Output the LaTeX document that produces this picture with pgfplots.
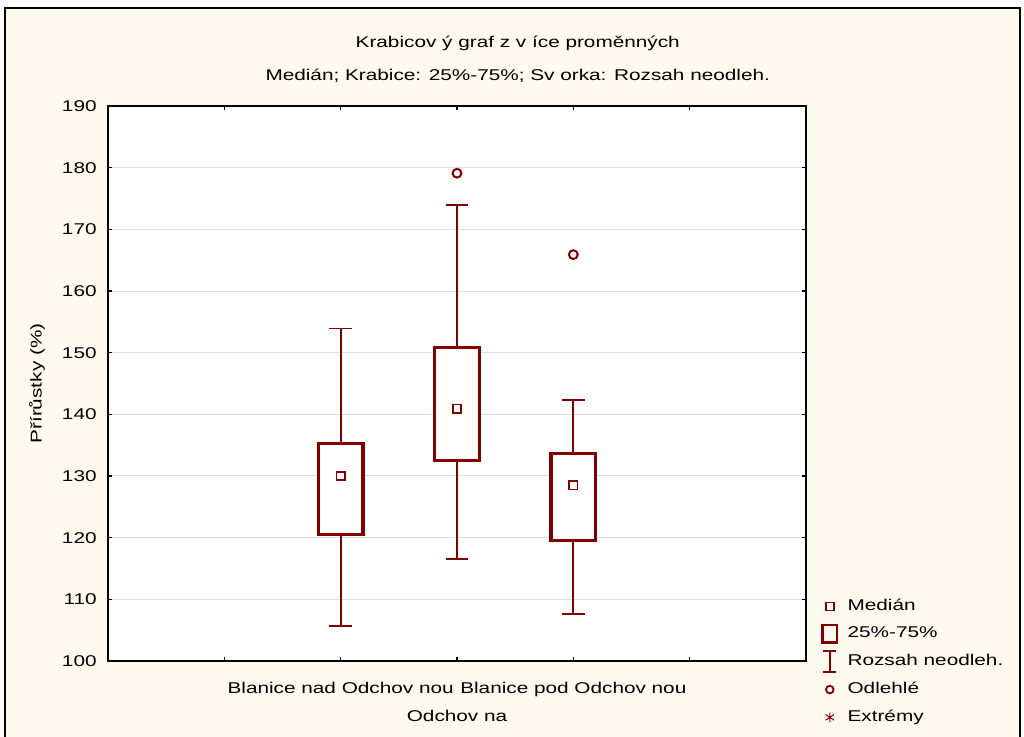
\documentclass[border=0pt]{standalone}
\usepackage{pgfplots}
\pgfplotsset{compat=1.18}
\usepgfplotslibrary{statistics}
\usepackage{fontspec}
\setmainfont{Liberation Sans}[FakeStretch=1.33]
\definecolor{mred}{RGB}{128,0,0}
\definecolor{cream}{RGB}{253,249,239}
\definecolor{gridgray}{RGB}{221,221,221}
\begin{document}
\begin{tikzpicture}
\path[use as bounding box] (-54pt,-38pt) rectangle (458pt,330.5pt);
\fill[white] (-54pt,-38pt) rectangle (458pt,330.5pt);
\fill[cream] (-51.5pt,-40pt) rectangle (456pt,326.5pt);
\draw[black, line width=1.1pt] (-51.5pt,-40pt) -- (-51.5pt,326.5pt) -- (456pt,326.5pt) -- (456pt,-40pt);
\begin{axis}[
  at={(0,0)}, anchor=south west,
  scale only axis,
  width=349pt, height=277.5pt,
  xmin=0, xmax=6, ymin=100, ymax=190,
  axis background/.style={fill=white},
  axis line style={line width=1pt},
  ytick={100,110,...,190},
  xtick={1,2,3,4,5},
  xticklabels={{},{Blanice nad Odchov nou},{\vphantom{Bl}\\Odchov na},{Blanice pod Odchov nou},{}},
  tick align=inside, tick pos=both,
  major tick length=2pt,
  every tick/.style={black, line width=0.8pt},
  ymajorgrids,
  grid style={gridgray, line width=0.5pt},
  /pgf/number format/assume math mode=true,
  font=\fontsize{7.8}{9.4}\selectfont,
  xticklabel style={font=\fontsize{7.8}{14}\selectfont, align=center, anchor=north, inner sep=0pt, yshift=-10.5pt},
  yticklabel style={anchor=east, inner sep=0pt, xshift=-5.5pt},
  ylabel={Přírůstky (\%)},
  ylabel style={at={(axis description cs:-0.1017,0.5)}, anchor=center},
  title={Krabicov ý graf z v íce proměnných\\Medián; Krabice: 25\%-75\%; Sv orka: Rozsah neodleh.},
  title style={at={(axis description cs:0.587,1)}, anchor=south, align=center, inner sep=0pt, yshift=5.8pt, font=\fontsize{7.8}{16.5}\selectfont},
  boxplot/draw direction=y,
  boxplot/box extend=0.385,
  boxplot/whisker extend=0.195,
  boxplot/every box/.style={draw=mred, line width=1.6pt, fill=white},
  boxplot/every whisker/.style={draw=mred, line width=0.85pt},
  boxplot/every median/.style={draw=none},
  legend style={at={(rel axis cs:1,0)}, anchor=south west, xshift=4.5pt, yshift=-36pt, draw=none, fill=none, row sep=2.65pt,
    font=\fontsize{7.8}{9.4}\selectfont, legend cell align=left},
  legend cell align=left,
]
\addplot[forget plot, boxplot prepared={draw position=2, median=130.0, upper quartile=135.3, lower quartile=120.5, upper whisker=153.9, lower whisker=105.7}] coordinates {};
\addplot[forget plot, boxplot prepared={draw position=3, median=140.9, upper quartile=150.9, lower quartile=132.5, upper whisker=173.9, lower whisker=116.5}] coordinates {};
\addplot[forget plot, boxplot prepared={draw position=4, median=128.5, upper quartile=133.6, lower quartile=119.5, upper whisker=142.3, lower whisker=107.6}] coordinates {};
% medians
\addplot[forget plot, only marks, mark=square*, mark size=2.1pt, draw=mred, fill=white, line width=0.75pt] coordinates {(2,130.0) (3,140.9) (4,128.5)};
% outliers
\addplot[forget plot, only marks, mark=o, mark size=2.2pt, draw=mred, line width=1pt] coordinates {(3,179.1) (4,165.9)};
% legend
\addlegendimage{legend image code/.code={\draw[mred, line width=0.75pt, fill=white] (0.1cm-2pt,-2pt) rectangle (0.1cm+2pt,2pt); \path (0.1cm+6.7pt,0);}}
\addlegendentry{Medián}
\addlegendimage{legend image code/.code={\draw[mred, line width=1.2pt] (0.1cm-3.6pt,-4.3pt) rectangle (0.1cm+3.6pt,4.3pt); \path (0.1cm+6.7pt,0);}}
\addlegendentry{25\%-75\%}
\addlegendimage{legend image code/.code={\draw[mred, line width=0.85pt] (0.1cm,-5.3pt) -- (0.1cm,5.3pt) (0.1cm-3.3pt,-5.3pt) -- (0.1cm+3.3pt,-5.3pt) (0.1cm-3.3pt,5.3pt) -- (0.1cm+3.3pt,5.3pt); \path (0.1cm+6.7pt,0);}}
\addlegendentry{Rozsah neodleh.}
\addlegendimage{legend image code/.code={\draw[mred, line width=0.9pt] (0.1cm,0) circle (1.9pt); \path (0.1cm+6.7pt,0);}}
\addlegendentry{Odlehlé}
\addlegendimage{legend image code/.code={\draw[mred, line width=0.5pt] (0.1cm,-2.4pt) -- (0.1cm,2.4pt) (0.1cm-2.1pt,-1.4pt) -- (0.1cm+2.1pt,1.4pt) (0.1cm-2.1pt,1.4pt) -- (0.1cm+2.1pt,-1.4pt); \path (0.1cm+6.7pt,0);}}
\addlegendentry{Extrémy}
\end{axis}
\end{tikzpicture}
\end{document}
